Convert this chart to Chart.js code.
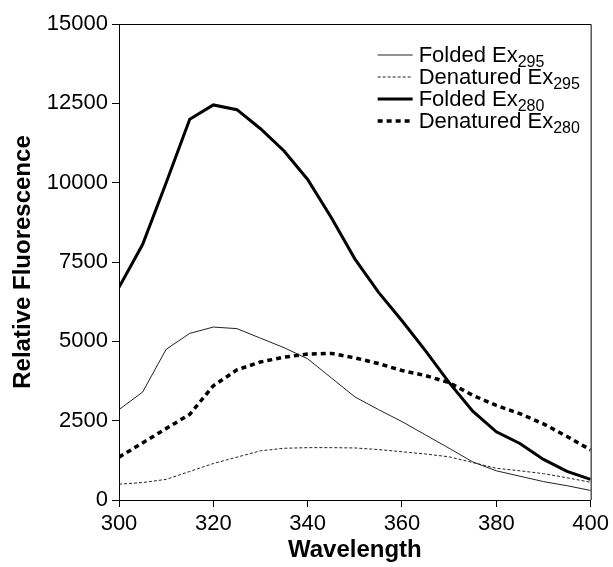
<!DOCTYPE html>
<html>
<head>
<meta charset="utf-8">
<script src="https://cdn.jsdelivr.net/npm/chart.js@4/dist/chart.umd.min.js"></script>
<style>
    body { margin: 0; background: #ffffff; }
</style>
</head>
<body>
<canvas id="myChart" width="613" height="567"></canvas>
<script>
// wavelength (nm) sampled every 5 nm
let wavelengths = [300, 305, 310, 315, 320, 325, 330, 335, 340, 345, 350,
                   355, 360, 365, 370, 375, 380, 385, 390, 395, 400];

let foldedEx295    = [2850, 3400, 4750, 5250, 5450, 5400, 5100, 4800, 4450, 3850, 3250,
                      2850, 2470, 2050, 1630, 1200, 920, 750, 580, 450, 300];
let denaturedEx295 = [500, 550, 650, 900, 1150, 1350, 1550, 1630, 1650, 1650, 1640,
                      1590, 1520, 1450, 1360, 1180, 1000, 920, 830, 700, 560];
let foldedEx280    = [6700, 8050, 10000, 12000, 12450, 12300, 11700, 11000, 10100, 8900, 7600,
                      6550, 5650, 4700, 3700, 2800, 2150, 1780, 1280, 900, 650];
let denaturedEx280 = [1350, 1800, 2250, 2700, 3600, 4100, 4350, 4500, 4600, 4620, 4480,
                      4300, 4080, 3920, 3700, 3300, 2980, 2720, 2400, 2000, 1580];

// legend text: main part + subscript
let legendMain = ["Folded Ex", "Denatured Ex", "Folded Ex", "Denatured Ex"];
let legendSub  = ["295", "295", "280", "280"];

let yTicks = [0, 2500, 5000, 7500, 10000, 12500, 15000];
let xTicks = [300, 320, 340, 360, 380, 400];

function toPoints(values) {
    let pts = [];
    for (let i = 0; i < wavelengths.length; i++) {
        pts.push({ x: wavelengths[i], y: values[i] });
    }
    return pts;
}

const FONT = "Arial, 'Liberation Sans', sans-serif";

// draws the frame on top and right side
const boxPlugin = {
    id: "box",
    afterDraw(chart) {
        const ctx = chart.ctx;
        const a = chart.chartArea;
        ctx.save();
        ctx.strokeStyle = "#000";
        ctx.lineWidth = 1;
        ctx.beginPath();
        ctx.moveTo(a.left, a.top + 0.5);
        ctx.lineTo(a.right + 0.5, a.top + 0.5);
        ctx.lineTo(a.right + 0.5, a.bottom);
        ctx.stroke();
        ctx.restore();
    }
};

// legend with subscripts (Ex295 / Ex280)
const subLegend = {
    id: "subLegend",
    afterDraw(chart) {
        const ctx = chart.ctx;
        const a = chart.chartArea;
        const x0 = a.right - 213;
        const x1 = a.right - 178;
        const tx = a.right - 172;
        ctx.save();
        chart.data.datasets.forEach(function (ds, i) {
            const y = a.top + 31 + i * 22;
            ctx.strokeStyle = ds.borderColor;
            ctx.lineWidth = ds.borderWidth;
            ctx.setLineDash(ds.borderDash || []);
            ctx.beginPath();
            ctx.moveTo(x0, y);
            ctx.lineTo(x1, y);
            ctx.stroke();
            ctx.setLineDash([]);

            ctx.fillStyle = "#000";
            ctx.textBaseline = "alphabetic";
            ctx.textAlign = "left";
            ctx.font = "22px " + FONT;
            ctx.fillText(legendMain[i], tx, y + 7);
            const w = ctx.measureText(legendMain[i]).width;
            ctx.font = "16px " + FONT;
            ctx.fillText(legendSub[i], tx + w, y + 12);
        });
        ctx.restore();
    }
};

const myChart = new Chart("myChart", {
    type: "line",
    data: {
        datasets: [{
            label: "Folded Ex295",
            data: toPoints(foldedEx295),
            borderColor: "#222222",
            borderWidth: 1,
        }, {
            label: "Denatured Ex295",
            data: toPoints(denaturedEx295),
            borderColor: "#222222",
            borderWidth: 1,
            borderDash: [3, 2],
        }, {
            label: "Folded Ex280",
            data: toPoints(foldedEx280),
            borderColor: "#000000",
            borderWidth: 3,
        }, {
            label: "Denatured Ex280",
            data: toPoints(denaturedEx280),
            borderColor: "#000000",
            borderWidth: 3.5,
            borderDash: [5, 4],
        }]
    },
    options: {
        responsive: false,
        animation: false,
        events: [],
        elements: {
            point: { radius: 0 },
            line: { tension: 0, fill: false }
        },
        layout: { padding: { top: 24, right: 20, left: 0, bottom: 0 } },
        plugins: {
            legend: { display: false },
            tooltip: { enabled: false }
        },
        scales: {
            x: {
                type: "linear",
                min: 300,
                max: 400,
                afterBuildTicks: function (scale) {
                    scale.ticks = xTicks.map(v => ({ value: v }));
                },
                afterFit: function (scale) { scale.height = 67; },
                grid: {
                    drawOnChartArea: false,
                    tickLength: 7,
                    color: "#000"
                },
                border: { color: "#000", width: 1 },
                ticks: {
                    color: "#000",
                    padding: 4,
                    maxRotation: 0,
                    font: { family: FONT, size: 22 }
                },
                title: {
                    display: true,
                    text: "Wavelength",
                    color: "#000",
                    font: { family: FONT, size: 24, weight: "bold" },
                    padding: { top: 0, bottom: 2 }
                }
            },
            y: {
                min: 0,
                max: 15000,
                afterBuildTicks: function (scale) {
                    scale.ticks = yTicks.map(v => ({ value: v }));
                },
                afterFit: function (scale) { scale.width = 119; },
                grid: {
                    drawOnChartArea: false,
                    tickLength: 7,
                    color: "#000"
                },
                border: { color: "#000", width: 1 },
                ticks: {
                    color: "#000",
                    padding: 4,
                    font: { family: FONT, size: 22 },
                    callback: function (v) { return String(v); }
                },
                title: {
                    display: true,
                    text: "Relative Fluorescence",
                    color: "#000",
                    font: { family: FONT, size: 24, weight: "bold" },
                    padding: { top: 9, bottom: 0 }
                }
            }
        }
    },
    plugins: [boxPlugin, subLegend]
});
</script>
</body>
</html>
